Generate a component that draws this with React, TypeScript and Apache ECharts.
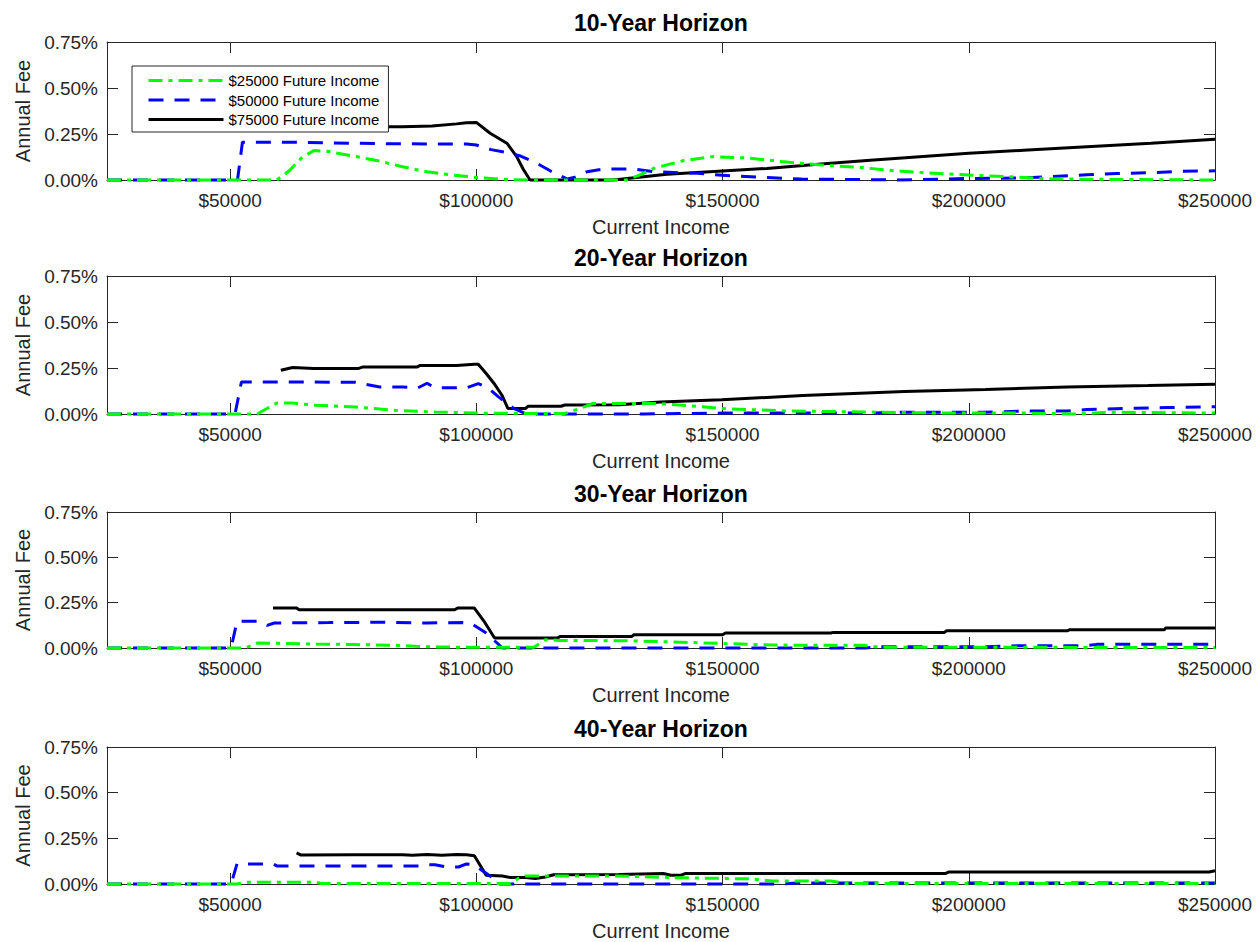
import React, { useEffect, useRef } from "react";
import * as echarts from "echarts";

const horizonTitles = ["10-Year Horizon", "20-Year Horizon", "30-Year Horizon", "40-Year Horizon"];
const seriesNames = ["$25000 Future Income", "$50000 Future Income", "$75000 Future Income"];
const xTicks = [50000, 100000, 150000, 200000, 250000];
const xMin = 25000;
const xMax = 250000;
const yMax = 0.75;
const yStep = 0.25;

// values: [current income, annual fee in %]
const g10 = [[25000,0],[59500,0],[62000,0.05],[64500,0.12],[67000,0.16],[70000,0.155],[75000,0.13],[80000,0.105],[85000,0.072],[90000,0.045],[95000,0.027],[100000,0.014],[105000,0.004],[110000,0],[130500,0],[133000,0.025],[136000,0.063],[142000,0.105],[148000,0.127],[155000,0.12],[162000,0.1],[170000,0.082],[178000,0.068],[185000,0.05],[192000,0.038],[200000,0.027],[210000,0.015],[217000,0.006],[230000,0.003],[250000,0]];
const b10 = [[25000,0],[51500,0],[52500,0.205],[60000,0.206],[70000,0.202],[80000,0.198],[90000,0.196],[98000,0.196],[100000,0.19],[103000,0.165],[106000,0.15],[109000,0.13],[112000,0.095],[115000,0.05],[118500,0.005],[120000,0.015],[122500,0.045],[126000,0.06],[132000,0.06],[136000,0.045],[145000,0.036],[152000,0.022],[159000,0.013],[166000,0.005],[180000,0.002],[185000,0],[200000,0.008],[212000,0.012],[218000,0.02],[224000,0.028],[230000,0.035],[237000,0.04],[243000,0.047],[250000,0.05]];
const k10 = [[60000,0.292],[70000,0.292],[80000,0.29],[85000,0.29],[91000,0.293],[96000,0.305],[98000,0.311],[100000,0.313],[102800,0.254],[106200,0.2],[108200,0.127],[109500,0.06],[110900,0],[127800,0],[133000,0.015],[138700,0.031],[150000,0.049],[159000,0.063],[170000,0.087],[180000,0.107],[190000,0.126],[200000,0.145],[212000,0.163],[224000,0.181],[237000,0.2],[250000,0.221]];

const g20 = [[25000,0],[55500,0],[57500,0.03],[59500,0.06],[62700,0.06],[67300,0.047],[75500,0.038],[83500,0.02],[91600,0.011],[99600,0.005],[110000,0.003],[118000,0.003],[121000,0.03],[123700,0.057],[137000,0.057],[143000,0.045],[149800,0.03],[162200,0.017],[178700,0.011],[195200,0.005],[211700,0.005],[222400,0],[228200,0.01],[250000,0.005]];
const b20 = [[25000,0],[51000,0],[52300,0.174],[65000,0.174],[75500,0.172],[80400,0.147],[85100,0.147],[88000,0.14],[90000,0.167],[91600,0.142],[98000,0.142],[100400,0.165],[102500,0.14],[104500,0.093],[107600,0.03],[110100,0],[134000,0],[150000,0.005],[180000,0.005],[187000,0.01],[203000,0.01],[211700,0.016],[220000,0.016],[224000,0.024],[232300,0.03],[240400,0.035],[250000,0.04]];
const k20 = [[60300,0.238],[62700,0.253],[67000,0.247],[76000,0.247],[77000,0.256],[88000,0.256],[88500,0.263],[96000,0.263],[99600,0.27],[100400,0.27],[102000,0.22],[103600,0.166],[105200,0.102],[106400,0.03],[110000,0.03],[110500,0.042],[117200,0.042],[118000,0.049],[129000,0.05],[137400,0.065],[149800,0.078],[166300,0.1],[186900,0.122],[203400,0.133],[220000,0.147],[236400,0.155],[250000,0.162]];

const g30 = [[25000,0],[53100,0],[55500,0.027],[60000,0.026],[67500,0.022],[75000,0.019],[83600,0.015],[91600,0.005],[111700,0.004],[114000,0.046],[117000,0.042],[130000,0.04],[140000,0.033],[150000,0.025],[160000,0.016],[178700,0.015],[182000,0.004],[250000,0.003]];
const b30 = [[25000,0],[50200,0],[51400,0.147],[56000,0.147],[57500,0.125],[59000,0.138],[70000,0.14],[80000,0.142],[90000,0.138],[97200,0.14],[98800,0.138],[102000,0.083],[105300,0],[179000,0],[182000,0.007],[203000,0.007],[211000,0.013],[224000,0.013],[226000,0.02],[250000,0.02]];
const k30 = [[58700,0.22],[63500,0.22],[64000,0.211],[95600,0.211],[96200,0.22],[99600,0.22],[101500,0.15],[103700,0.055],[116500,0.055],[117000,0.064],[131600,0.064],[132000,0.073],[150000,0.073],[150600,0.083],[172000,0.083],[172500,0.086],[195000,0.086],[195500,0.095],[220000,0.095],[220500,0.101],[239700,0.101],[240000,0.11],[250000,0.11]];

const g40 = [[25000,0],[51400,0],[53100,0.009],[67500,0.009],[68500,0.003],[106900,0.003],[108500,0.03],[110000,0.044],[129000,0.044],[140000,0.035],[155600,0.028],[160000,0.016],[172000,0.016],[175000,0.003],[250000,0.003]];
const b40 = [[25000,0],[50200,0],[51400,0.11],[58700,0.11],[59500,0.099],[88400,0.099],[89000,0.105],[91600,0.105],[94000,0.093],[96400,0.093],[98000,0.11],[99500,0.105],[103000,0.04],[104200,0],[162000,0],[165000,0.005],[250000,0.005]];
const k40 = [[63500,0.17],[64300,0.159],[75000,0.16],[85000,0.16],[87000,0.157],[90000,0.162],[93000,0.158],[96000,0.162],[98000,0.16],[99600,0.155],[102000,0.048],[105300,0.044],[107000,0.035],[110000,0.036],[112000,0.03],[114000,0.038],[115700,0.051],[129000,0.052],[138000,0.057],[139500,0.048],[141600,0.048],[142400,0.057],[195200,0.057],[196000,0.066],[248800,0.066],[250000,0.072]];

const panelData = [
  [g10, b10, k10],
  [g20, b20, k20],
  [g30, b30, k30],
  [g40, b40, k40],
];

const seriesColors = ["#00ff00", "#0000ff", "#000000"];
const seriesDash: any[] = [[14, 6, 4, 6], [15, 11], "solid"];
const seriesZ = [4, 3, 2];

const gridTops = [42, 276, 512, 747];
const gridHeights = [138, 138, 136, 137];
const titleCenters = [23, 258, 494, 729];

const FONT = "Liberation Sans, Arial, Helvetica, sans-serif";
const AXIS_COLOR = "#262626";

export default function App() {
  const ref = useRef<HTMLDivElement>(null);
  useEffect(() => {
    const chart = echarts.init(ref.current!, null, { renderer: "svg" });
    const grids: any[] = [];
    const xAxes: any[] = [];
    const yAxes: any[] = [];
    const titles: any[] = [];
    const series: any[] = [];
    for (let i = 0; i < 4; i++) {
      grids.push({ left: 107, right: 42, top: gridTops[i], height: gridHeights[i], containLabel: false });
      titles.push({
        text: horizonTitles[i],
        left: 661,
        textAlign: "center",
        top: titleCenters[i] - 12,
        padding: 0,
        textStyle: { fontFamily: FONT, fontSize: 23, fontWeight: "bold", color: "#000", lineHeight: 24 },
      });
      const axisLine = { show: true, onZero: false, lineStyle: { color: AXIS_COLOR, width: 1 } };
      xAxes.push({
        type: "value",
        gridIndex: i,
        position: "bottom",
        min: xMin,
        max: xMax,
        name: "Current Income",
        nameLocation: "middle",
        nameGap: 37,
        nameTextStyle: { fontFamily: FONT, fontSize: 20, color: AXIS_COLOR },
        axisLine,
        axisTick: { show: true, inside: true, length: 11, customValues: xTicks, lineStyle: { color: AXIS_COLOR } },
        axisLabel: {
          show: true,
          customValues: xTicks,
          margin: 11,
          fontFamily: FONT,
          fontSize: 19,
          color: AXIS_COLOR,
          formatter: (v: number) => "$" + v,
        },
        splitLine: { show: false },
      });
      xAxes.push({
        type: "value",
        gridIndex: i,
        position: "top",
        min: xMin,
        max: xMax,
        axisLine,
        axisTick: { show: true, inside: true, length: 11, customValues: xTicks, lineStyle: { color: AXIS_COLOR } },
        axisLabel: { show: false },
        splitLine: { show: false },
      });
      yAxes.push({
        type: "value",
        gridIndex: i,
        position: "left",
        min: 0,
        max: yMax,
        interval: yStep,
        name: "Annual Fee",
        nameLocation: "middle",
        nameGap: 74,
        nameTextStyle: { fontFamily: FONT, fontSize: 20, color: AXIS_COLOR },
        axisLine,
        axisTick: { show: true, inside: true, length: 11, lineStyle: { color: AXIS_COLOR } },
        axisLabel: {
          margin: 9,
          fontFamily: FONT,
          fontSize: 19,
          color: AXIS_COLOR,
          formatter: (v: number) => v.toFixed(2) + "%",
        },
        splitLine: { show: false },
      });
      yAxes.push({
        type: "value",
        gridIndex: i,
        position: "right",
        min: 0,
        max: yMax,
        interval: yStep,
        axisLine,
        axisTick: { show: true, inside: true, length: 11, lineStyle: { color: AXIS_COLOR } },
        axisLabel: { show: false },
        splitLine: { show: false },
      });
      for (let s = 0; s < 3; s++) {
        series.push({
          type: "line",
          name: seriesNames[s],
          xAxisIndex: 2 * i,
          yAxisIndex: 2 * i,
          data: panelData[i][s],
          symbol: "none",
          showSymbol: false,
          clip: false,
          z: seriesZ[s],
          lineStyle: { color: seriesColors[s], width: 3, type: seriesDash[s], cap: "butt" },
          itemStyle: { color: seriesColors[s] },
          emphasis: { disabled: true },
        });
      }
    }
    chart.setOption({
      animation: false,
      backgroundColor: "#fff",
      title: titles,
      grid: grids,
      xAxis: xAxes,
      yAxis: yAxes,
      series,
      legend: {
        data: seriesNames,
        orient: "vertical",
        left: 132,
        top: 66,
        itemWidth: 75,
        itemHeight: 14,
        itemGap: 4.5,
        padding: [7, 9, 5, 15],
        backgroundColor: "#fff",
        borderColor: AXIS_COLOR,
        borderWidth: 1,
        borderRadius: 0,
        itemStyle: { opacity: 0 },
        lineStyle: { width: 3 },
        textStyle: { fontFamily: FONT, fontSize: 15, color: "#000", lineHeight: 14 },
        selectedMode: false,
      },
    });
    return () => chart.dispose();
  }, []);
  return (
    <div
      ref={ref}
      style={{ position: "fixed", left: 0, top: 0, width: 1257, height: 942, background: "#fff" }}
    />
  );
}
